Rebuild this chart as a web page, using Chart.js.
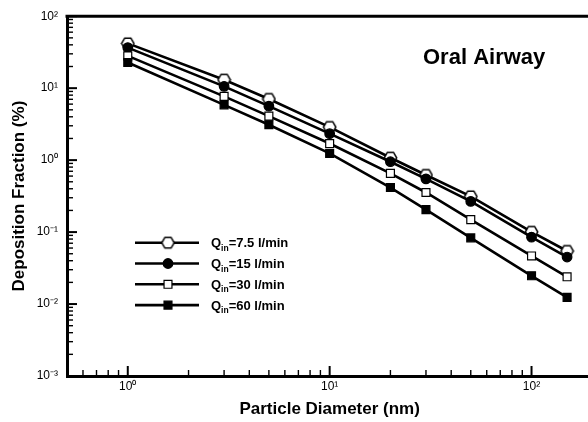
<!DOCTYPE html>
<html><head><meta charset="utf-8">
<script src="https://cdn.jsdelivr.net/npm/chart.js@4/dist/chart.umd.min.js"></script>
<style>
html,body{margin:0;padding:0;background:#fff;overflow:hidden;width:588px;height:422px}
#wrap{position:relative;width:600px;height:422px}
canvas{display:block}
</style></head><body>
<div id="wrap"><canvas id="c" width="600" height="422"></canvas></div>
<script>
// ---- data ----
const diameters = [1, 3, 5, 10, 20, 30, 50, 100, 150];
const q7_5 = [41.9, 13.1, 7.08, 2.88, 1.08, 0.622, 0.313, 0.1007, 0.0546];
const q15  = [36.6, 10.6, 5.62, 2.33, 0.95, 0.548, 0.267, 0.085, 0.045];
const q30  = [28.1, 7.7, 4.09, 1.70, 0.655, 0.355, 0.149, 0.0466, 0.0239];
const q60  = [22.7, 5.86, 3.10, 1.24, 0.416, 0.205, 0.083, 0.0247, 0.0124];
const flowRates = ['7.5', '15', '30', '60'];
const xTickValues = [1, 10, 100];
const yTickValues = [0.001, 0.01, 0.1, 1, 10, 100];
const supers = {'-':'\u207B','0':'\u2070','1':'\u00B9','2':'\u00B2','3':'\u00B3'};
function powLabel(v){ const e = String(Math.round(Math.log10(v))); return '10' + e.split('').map(c=>supers[c]).join(''); }

const FONT = "'Liberation Sans', Arial, Helvetica, sans-serif";

// hexagon marker image
function hexImage(){
  const c = document.createElement('canvas'); c.width = 15; c.height = 15;
  const g = c.getContext('2d');
  const r = 6.2, cx = 7.5, cy = 7.5;
  g.beginPath();
  for (let k = 0; k < 6; k++){ const ang = Math.PI/3*k; const px = cx + r*Math.cos(ang), py = cy + r*Math.sin(ang); k ? g.lineTo(px,py) : g.moveTo(px,py); }
  g.closePath(); g.fillStyle = '#fff'; g.fill(); g.lineWidth = 1.5; g.strokeStyle = '#000'; g.stroke();
  return c;
}
const hex = hexImage();

function ds(label, data, style, radius, fill, order){
  return { label, data: diameters.map((d,i)=>({x:d, y:data[i]})),
    borderColor:'#000', borderWidth:2.6, pointStyle:style, pointRadius:radius, pointHoverRadius:radius,
    pointBackgroundColor: fill, pointBorderColor:'#000', pointBorderWidth:1.2, order, tension:0 };
}
const datasets = [
  ds(flowRates[0], q7_5, hex, 6.5, '#fff', 4),
  ds(flowRates[1], q15, 'circle', 4.8, '#000', 3),
  ds(flowRates[2], q30, 'rect', 5.6, '#fff', 2),
  ds(flowRates[3], q60, 'rect', 5.6, '#000', 1)
];

const framePlugin = {
  id: 'frame',
  afterDraw(chart){
    const {ctx, chartArea:a, scales:{x, y}} = chart;
    ctx.save();
    ctx.strokeStyle = '#000';
    ctx.lineWidth = 3;
    ctx.beginPath(); ctx.moveTo(a.left - 1.5, a.top); ctx.lineTo(a.right + 2, a.top); ctx.stroke();
    // inward ticks
    function ticks(scale, horizontal){
      for (let d = 1e-4; d <= 1e3; d *= 10){
        for (let m = 1; m <= 9; m++){
          const v = m*d;
          if (v < scale.min*0.9999 || v > scale.max*1.0001) continue;
          const p = scale.getPixelForValue(v);
          const major = m === 1;
          const len = major ? 10 : 6;
          ctx.lineWidth = major ? 2 : 1.4;
          ctx.beginPath();
          if (horizontal){ ctx.moveTo(p, a.bottom); ctx.lineTo(p, a.bottom - len); }
          else { ctx.moveTo(a.left, p); ctx.lineTo(a.left + len, p); }
          ctx.stroke();
        }
      }
    }
    ticks(x, true); ticks(y, false);

    // annotation
    ctx.fillStyle = '#000';
    ctx.font = 'bold 22px ' + FONT;
    ctx.textBaseline = 'middle'; ctx.textAlign = 'left';
    ctx.fillText('Oral Airway', 423, 58);

    // legend
    const rowY0 = 242.7, rowDy = 20.8;
    chart.data.datasets.forEach((d, i) => {
      const yy = rowY0 + i*rowDy;
      ctx.lineWidth = 2.6; ctx.strokeStyle = '#000';
      ctx.beginPath(); ctx.moveTo(135, yy); ctx.lineTo(199, yy); ctx.stroke();
      ctx.fillStyle = d.pointBackgroundColor; ctx.strokeStyle = '#000'; ctx.lineWidth = d.pointBorderWidth;
      Chart.helpers.drawPoint(ctx, {pointStyle: d.pointStyle, radius: d.pointRadius, borderWidth: d.pointBorderWidth, rotation: 0}, 168, yy);
      ctx.fillStyle = '#000';
      ctx.textBaseline = 'alphabetic';
      ctx.font = 'bold 13px ' + FONT;
      let tx = 211;
      ctx.fillText('Q', tx, yy + 4.6); tx += ctx.measureText('Q').width;
      ctx.font = 'bold 8.5px ' + FONT;
      ctx.fillText('in', tx, yy + 8); tx += ctx.measureText('in').width;
      ctx.font = 'bold 13px ' + FONT;
      ctx.fillText('=' + d.label + ' l/min', tx, yy + 4.6);
    });
    ctx.restore();
  }
};

new Chart(document.getElementById('c'), {
  type: 'line',
  data: { datasets },
  plugins: [framePlugin],
  options: {
    responsive: false, animation: false, events: [],
    layout: { padding: { left: 0, top: 13, right: 4, bottom: 0 } },
    plugins: { legend: { display: false }, tooltip: { enabled: false } },
    scales: {
      x: {
        type: 'logarithmic', min: 0.5, max: 200,
        afterBuildTicks: s => { s.ticks = xTickValues.map(v => ({value: v})); },
        afterFit: s => { s.height = 46; },
        ticks: { callback: v => powLabel(v), color: '#000', font: { family: FONT, size: 12 }, padding: 3, maxRotation: 0, autoSkip: false },
        grid: { display: false, drawTicks: false },
        border: { display: true, color: '#000', width: 3 },
        title: { display: true, text: 'Particle Diameter (nm)', color: '#000', font: { family: FONT, size: 17, weight: 'bold' }, padding: { top: 0, bottom: 2 } }
      },
      y: {
        type: 'logarithmic', min: 0.001, max: 100,
        afterBuildTicks: s => { s.ticks = yTickValues.map(v => ({value: v})); },
        afterFit: s => { s.width = 67; },
        ticks: { callback: v => powLabel(v), color: '#000', font: { family: FONT, size: 12 }, padding: 9, autoSkip: false },
        grid: { display: false, drawTicks: false },
        border: { display: true, color: '#000', width: 3 },
        title: { display: true, text: 'Deposition Fraction (%)', color: '#000', font: { family: FONT, size: 17, weight: 'bold' }, padding: { top: 9, bottom: 0 } }
      }
    }
  }
});
</script>
</body></html>
